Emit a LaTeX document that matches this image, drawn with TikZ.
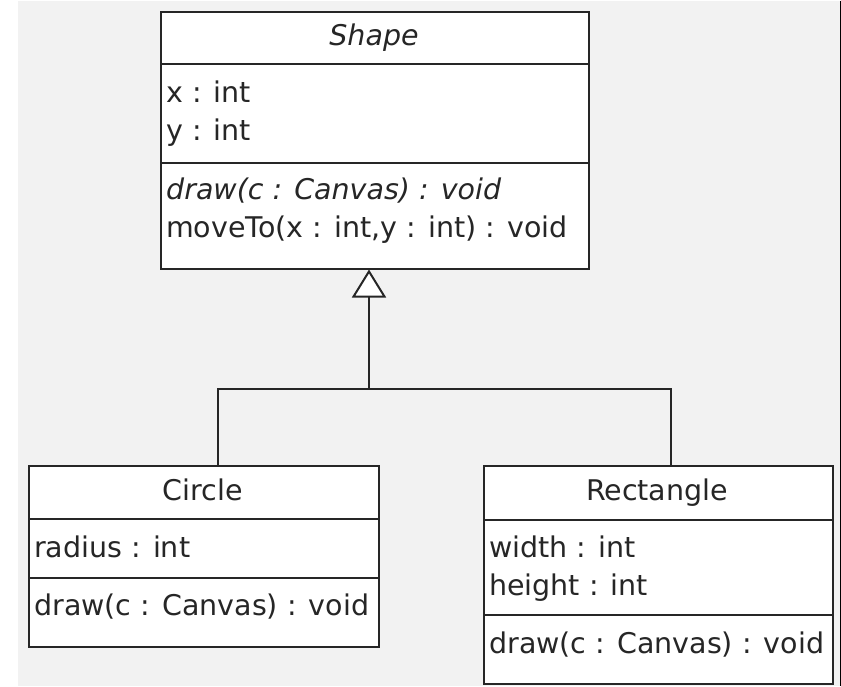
\documentclass[tikz,border=0pt]{standalone}
\usepackage{fontspec}
\setmainfont{DejaVu Sans}
\usetikzlibrary{arrows.meta}

\begin{document}
\begin{tikzpicture}[x=1pt,y=-1pt,
  box/.style={draw=black!85,line width=2pt,fill=white,inner sep=0pt,anchor=north west},
  txt/.style={anchor=base west,inner sep=0pt,font=\fontsize{28.5}{34}\selectfont,text=black!85},
  title/.style={txt,anchor=base},
  link/.style={draw=black!85,line width=2pt}]
\fill[gray!10] (0,0) rectangle (841,685);
\fill[white] (0,0) rectangle (18,685);
\draw[line width=1pt] (840.5,0)--(840.5,685);
\node[box,minimum width=428pt,minimum height=257pt] (shape) at (160,10) {};
\node[box,minimum width=350pt,minimum height=181pt] (circle) at (28,464) {};
\node[box,minimum width=349pt,minimum height=218pt] (rect) at (483,464) {};
\foreach \l/\r/\y in {160/588/63,160/588/162,28/378/518,28/378/577,483/832/519,483/832/614}
  { \draw[link] (\l,\y)--(\r,\y); }
\node[title] (shapename) at (374,45) {\itshape Shape};
\node[txt] (shapex) at (166,102) {x : int};
\node[txt] (shapey) at (166,140) {y : int};
\node[txt] (shapedraw) at (166,199) {\itshape draw(c : Canvas) : void};
\node[txt] (shapemove) at (166,237) {moveTo(x : int,y : int) : void};
\node[title] (circlename) at (203,500) {Circle};
\node[txt] (circleradius) at (34,557) {radius : int};
\node[txt] (circledraw) at (34,615) {draw(c : Canvas) : void};
\node[title] (rectname) at (657,500) {Rectangle};
\node[txt] (rectwidth) at (489,557) {width : int};
\node[txt] (rectheight) at (489,595) {height : int};
\node[txt] (rectdraw) at (489,653) {draw(c : Canvas) : void};
\coordinate (cj) at (218,388);
\coordinate (sj) at (369,388);
\coordinate (rj) at (671,388);
\draw[link] (circle.north -| cj) -- (cj) -- (rj) -- (rect.north -| rj);
\draw[link,-{Triangle[fill=white,length=28pt,width=34pt]}] (sj) -- (shape.south -| sj);
\end{tikzpicture}
\end{document}
